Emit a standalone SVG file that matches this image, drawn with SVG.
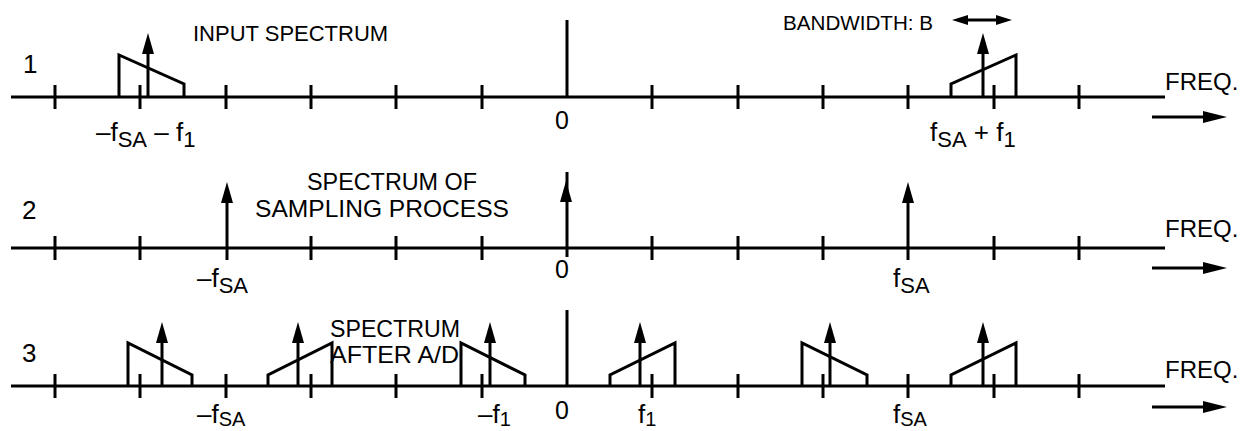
<svg xmlns="http://www.w3.org/2000/svg" width="1244" height="431" viewBox="0 0 1244 431">
<style>
.ln{stroke:#000;stroke-width:3;fill:none;stroke-linecap:butt}
.t{font-family:"Liberation Sans",Arial,sans-serif;font-size:24px;fill:#000}
.m{font-family:"Liberation Sans",Arial,sans-serif;font-size:26px;fill:#000}
.n{font-family:"Liberation Sans",Arial,sans-serif;font-size:26px;fill:#000}
.z{font-family:"Liberation Sans",Arial,sans-serif;font-size:25px;fill:#000}
.s{font-size:22px}
.s3{font-size:20px}
</style>
<defs>
<path id="ah" d="M0,0 L-6,21 L6,21 Z" fill="#000"/>
<path id="ar" d="M0,0 L-24,-6 L-24,6 Z" fill="#000"/>
</defs>

<g id="axes">
<g id="axis1">
<line class="ln" x1="11" y1="97" x2="1165" y2="97"/>
<path class="ln" d="M55,85V109M140,85V109M226,85V109M311,85V109M396,85V109M482,85V109M652,85V109M738,85V109M823,85V109M908,85V109M994,85V109M1079,85V109"/>
<line class="ln" x1="567" y1="20" x2="567" y2="97"/>
</g>
<g id="axis2">
<line class="ln" x1="11" y1="248" x2="1165" y2="248"/>
<path class="ln" d="M55,236V260M140,236V260M311,236V260M396,236V260M482,236V260M652,236V260M738,236V260M823,236V260M994,236V260M1079,236V260"/>
</g>
<g id="axis3">
<line class="ln" x1="11" y1="386" x2="1165" y2="386"/>
<path class="ln" d="M55,374V398M140,374V398M226,374V398M311,374V398M396,374V398M482,374V398M652,374V398M738,374V398M823,374V398M908,374V398M994,374V398M1079,374V398"/>
<line class="ln" x1="567" y1="310" x2="567" y2="386"/>
</g>
</g>

<g id="row1">
<g id="band1a">
<path class="ln" d="M119,97V55L184,84V97"/>
<line class="ln" x1="148" y1="97" x2="148" y2="50"/>
<use href="#ah" x="148" y="33"/>
</g>
<g id="band1b">
<path class="ln" d="M951,97V84L1016,55V97"/>
<line class="ln" x1="983" y1="97" x2="983" y2="50"/>
<use href="#ah" x="983" y="33"/>
</g>
<g id="bw">
<line class="ln" x1="964" y1="20" x2="1000" y2="20"/>
<path d="M952,20L968,15V25Z M1012,20L996,15V25Z" fill="#000"/>
</g>
<text class="n" x="23" y="73">1</text>
<text class="t" x="193" y="41" style="font-size:22px">INPUT SPECTRUM</text>
<text class="t" x="783" y="30" style="font-size:20px" textLength="150" lengthAdjust="spacingAndGlyphs">BANDWIDTH: B</text>
<text class="m" x="96" y="141">–f<tspan class="s" dy="6">SA</tspan><tspan dy="-6"> – f</tspan><tspan class="s" dy="6">1</tspan></text>
<text class="z" x="555" y="129">0</text>
<text class="m" x="930" y="141">f<tspan class="s" dy="6">SA</tspan><tspan dy="-6"> + f</tspan><tspan class="s" dy="6">1</tspan></text>
<text class="t" x="1165" y="90">FREQ.</text>
<line class="ln" x1="1152" y1="117" x2="1210" y2="117"/>
<use href="#ar" x="1227" y="117"/>
</g>

<g id="row2">
<g id="imp1">
<line class="ln" x1="227" y1="260" x2="227" y2="198"/>
<use href="#ah" x="227" y="182"/>
</g>
<g id="imp0">
<line class="ln" x1="567" y1="257" x2="567" y2="172"/>
<use href="#ah" x="566" y="181"/>
</g>
<g id="imp2">
<line class="ln" x1="908" y1="260" x2="908" y2="198"/>
<use href="#ah" x="908" y="182"/>
</g>
<text class="n" x="22" y="219">2</text>
<text class="t" x="307" y="190" textLength="170" lengthAdjust="spacingAndGlyphs">SPECTRUM OF</text>
<text class="t" x="255" y="217" textLength="254" lengthAdjust="spacingAndGlyphs">SAMPLING PROCESS</text>
<text class="m" x="197" y="287">–f<tspan class="s" dy="6">SA</tspan></text>
<text class="z" x="555" y="278">0</text>
<text class="m" x="893" y="287">f<tspan class="s" dy="6">SA</tspan></text>
<text class="t" x="1165" y="237">FREQ.</text>
<line class="ln" x1="1152" y1="268" x2="1210" y2="268"/>
<use href="#ar" x="1227" y="268"/>
</g>

<g id="row3">
<g id="b3a"><path class="ln" d="M128,386V343L192,375V386"/><line class="ln" x1="162" y1="386" x2="162" y2="338"/><use href="#ah" x="162" y="322"/></g>
<g id="b3b"><path class="ln" d="M268,386V375L332,343V386"/><line class="ln" x1="298" y1="386" x2="298" y2="338"/><use href="#ah" x="298" y="322"/></g>
<g id="b3c"><path class="ln" d="M461,386V343L525,375V386"/><line class="ln" x1="490" y1="386" x2="490" y2="338"/><use href="#ah" x="490" y="322"/></g>
<g id="b3d"><path class="ln" d="M610,386V375L675,343V386"/><line class="ln" x1="640" y1="386" x2="640" y2="338"/><use href="#ah" x="640" y="322"/></g>
<g id="b3e"><path class="ln" d="M802,386V343L867,375V386"/><line class="ln" x1="830" y1="386" x2="830" y2="338"/><use href="#ah" x="830" y="322"/></g>
<g id="b3f"><path class="ln" d="M951,386V375L1016,343V386"/><line class="ln" x1="983" y1="386" x2="983" y2="338"/><use href="#ah" x="983" y="322"/></g>
<text class="n" x="22" y="362">3</text>
<text class="t" x="330" y="337" textLength="130" lengthAdjust="spacingAndGlyphs">SPECTRUM</text>
<text class="t" x="330" y="363" textLength="129" lengthAdjust="spacingAndGlyphs">AFTER A/D</text>
<text class="m" x="197" y="423">–f<tspan class="s3" dy="3">SA</tspan></text>
<text class="m" x="478" y="423">–f<tspan class="s3" dy="3">1</tspan></text>
<text class="z" x="555" y="419">0</text>
<text class="m" x="638" y="423">f<tspan class="s3" dy="3">1</tspan></text>
<text class="m" x="893" y="423">f<tspan class="s3" dy="3">SA</tspan></text>
<text class="t" x="1165" y="378">FREQ.</text>
<line class="ln" x1="1152" y1="407" x2="1210" y2="407"/>
<use href="#ar" x="1227" y="407"/>
</g>
</svg>
